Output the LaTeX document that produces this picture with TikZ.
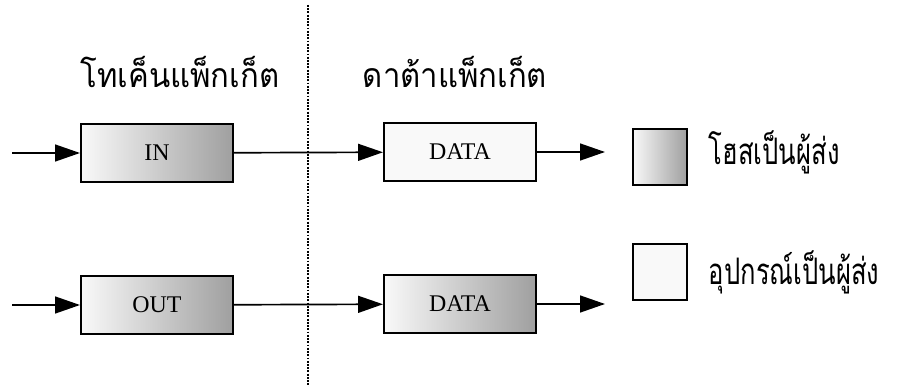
\documentclass[tikz,border=0pt]{standalone}
\usepackage{fontspec}
\setmainfont{Liberation Serif}
\newfontfamily\thaifont[Script=Thai,FakeStretch=0.92]{Loma}
\newfontfamily\thainarrow[Script=Thai,FakeStretch=0.7]{Loma}
\usetikzlibrary{arrows.meta,positioning}

\begin{document}
\begin{tikzpicture}[x=0.025cm, y=-0.025cm,
	>={Triangle[length=0.62cm,width=0.42cm]},
	flow/.style={->, line width=1.2pt},
	packet/.style={draw, line width=1.4pt, minimum width=3.8cm, minimum height=1.45cm, font=\fontsize{17}{17}\selectfont},
	host/.style={packet, left color=gray!5, right color=gray!75},
	device/.style={packet, fill=gray!5},
	key/.style={draw, line width=1.4pt, minimum width=1.35cm, minimum height=1.38cm},
	caption/.style={font=\thaifont\fontsize{24}{28}\selectfont},
	keytext/.style={font=\thainarrow\fontsize{26}{30}\selectfont}]
	\useasboundingbox (0,0) rectangle (897,387);
	% column headers and divider
	\node[caption] (tokenhead) at (180,72) {โทเค็นแพ็กเก็ต};
	\node[caption] (datahead) at (455,72) {ดาต้าแพ็กเก็ต};
	\coordinate (divtop) at (308,5);
	\coordinate (divbot) at (308,387);
	\draw[densely dotted, line width=1.3pt] (divtop) -- (divbot);
	% IN transaction
	\coordinate (instart) at (12,153);
	\node[host] (in) at (157,153) {IN};
	\node[device] (indata) at (460,152) {DATA};
	\coordinate (inend) at (605,152);
	\draw[flow] (instart) -- (in);
	\draw[flow] (in) -- (indata);
	\draw[flow] (indata) -- (inend);
	% OUT transaction
	\coordinate (outstart) at (12,305);
	\node[host] (out) at (157,305) {OUT};
	\node[host] (outdata) at (460,304) {DATA};
	\coordinate (outend) at (605,304);
	\draw[flow] (outstart) -- (out);
	\draw[flow] (out) -- (outdata);
	\draw[flow] (outdata) -- (outend);
	% legend
	\node[key, left color=gray!5, right color=gray!75] (hostkey) at (660,157) {};
	\node[keytext, right=0.4cm of hostkey, yshift=3pt] (hostlabel) {โฮสเป็นผู้ส่ง};
	\node[key, fill=gray!5] (devkey) at (660,272) {};
	\node[keytext, right=0.4cm of devkey] (devlabel) {อุปกรณ์เป็นผู้ส่ง};
\end{tikzpicture}
\end{document}
